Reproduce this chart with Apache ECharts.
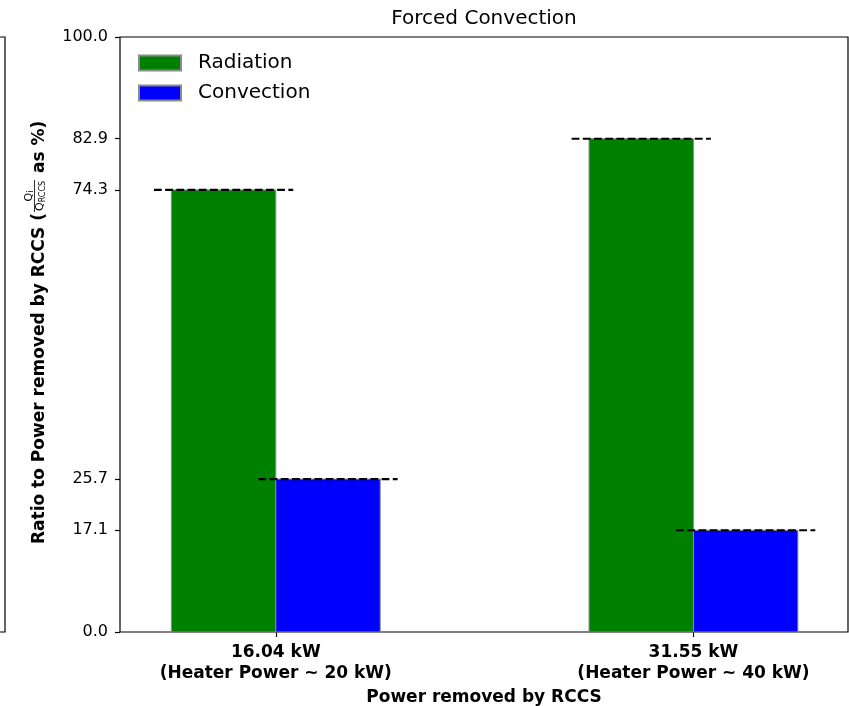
<!DOCTYPE html>
<html>
<head>
<meta charset="utf-8">
<script src="https://cdn.jsdelivr.net/npm/echarts@6/dist/echarts.min.js"></script>
<style>
  html, body { margin: 0; padding: 0; background: #fff; }
  #chart { width: 849px; height: 706px; }
</style>
</head>
<body>
<div id="chart"></div>
<script>
// data
const categories = ['16.04 kW\n(Heater Power ~ 20 kW)', '31.55 kW\n(Heater Power ~ 40 kW)'];
const radiation = [74.3, 82.9];
const convection = [25.7, 17.1];
const yTicks = [0, 17.1, 25.7, 74.3, 82.9, 100];

const FONT = 'DejaVu Sans';
const BAR_W = 0.25;
const DASH_HALF = 0.1667;

const chart = echarts.init(document.getElementById('chart'));

// bar + dashed level line, drawn through the axes
function barRenderer(offset) {
  return function (params, api) {
    const x = api.value(0) + offset;
    const v = api.value(1);
    const p0 = api.coord([x - BAR_W / 2, 0]);
    const p1 = api.coord([x + BAR_W / 2, v]);
    const l0 = api.coord([x - DASH_HALF, v]);
    const l1 = api.coord([x + DASH_HALF, v]);
    return {
      type: 'group',
      children: [
        {
          type: 'rect',
          shape: { x: p0[0], y: p1[1], width: p1[0] - p0[0], height: p0[1] - p1[1] },
          style: { fill: api.visual('color'), stroke: '#8a8a8a', lineWidth: 1 }
        },
        {
          type: 'line',
          z2: 10,
          shape: { x1: l0[0], y1: l0[1], x2: l1[0], y2: l1[1] },
          style: { stroke: '#000', lineWidth: 2.1, lineDash: [7.8, 3.4] }
        }
      ]
    };
  };
}

// y axis label with a small fraction, laid out by measured widths
const ctx = document.createElement('canvas').getContext('2d');
function textW(font, s) {
  ctx.font = font;
  return ctx.measureText(s).width;
}
const mainFont = 'bold 17px "' + FONT + '"';
const qFont = '11px "' + FONT + '"';
const subFont = '8px "' + FONT + '"';
const mainText = 'Ratio to Power removed by RCCS (';
const w1 = textW(mainFont, mainText);
const numW = textW(qFont, 'Q') + textW(subFont, 'i');
const denW = textW(qFont, 'Q') + textW(subFont, 'RCCS');
const fracW = denW + 2;
const fx = w1 + 1;

const yName = {
  type: 'group',
  x: 40,
  y: 544,
  rotation: Math.PI / 2,
  children: [
    { type: 'text', style: { text: mainText, x: 0, y: 0, font: mainFont, fill: '#000', textAlign: 'left', textVerticalAlign: 'middle' } },
    { type: 'text', style: { text: 'Q', x: fx + (fracW - numW) / 2, y: -11, font: qFont, fill: '#000', textAlign: 'left', textVerticalAlign: 'middle' } },
    { type: 'text', style: { text: 'i', x: fx + (fracW - numW) / 2 + textW(qFont, 'Q'), y: -9, font: subFont, fill: '#000', textAlign: 'left', textVerticalAlign: 'middle' } },
    { type: 'line', shape: { x1: fx, y1: -5.5, x2: fx + fracW, y2: -5.5 }, style: { stroke: '#000', lineWidth: 0.8 } },
    { type: 'text', style: { text: 'Q', x: fx + 1, y: 0.5, font: qFont, fill: '#000', textAlign: 'left', textVerticalAlign: 'middle' } },
    { type: 'text', style: { text: 'RCCS', x: fx + 1 + textW(qFont, 'Q'), y: 2.5, font: subFont, fill: '#000', textAlign: 'left', textVerticalAlign: 'middle' } },
    { type: 'text', style: { text: ' as %)', x: fx + fracW + 1, y: 0, font: mainFont, fill: '#000', textAlign: 'left', textVerticalAlign: 'middle' } }
  ]
};

const option = {
  backgroundColor: '#fff',
  animation: false,
  title: {
    text: 'Forced Convection',
    left: 484,
    textAlign: 'center',
    top: 9,
    padding: 0,
    textStyle: { fontFamily: FONT, fontSize: 20, fontWeight: 'normal', color: '#000' }
  },
  legend: {
    data: ['Radiation', 'Convection'],
    orient: 'vertical',
    left: 138,
    top: 53,
    padding: 0,
    icon: 'rect',
    itemWidth: 42,
    itemHeight: 15,
    itemGap: 10,
    textStyle: { fontFamily: FONT, fontSize: 20, color: '#000', padding: [0, 0, 0, 12] }
  },
  grid: [
    { left: 120, top: 37, width: 728, height: 595, outerBoundsMode: 'none', show: true, borderColor: '#000', borderWidth: 1.2 },
    // edge of the neighbouring subplot, cut off at the left
    { left: -100, top: 37, width: 105, height: 595, outerBoundsMode: 'none', show: true, borderColor: '#000', borderWidth: 1.2 }
  ],
  xAxis: {
    type: 'value',
    gridIndex: 0,
    min: -0.373,
    max: 1.37,
    axisLine: { show: false, onZero: false },
    splitLine: { show: false },
    axisTick: { show: true, length: 5, customValues: [0, 1], lineStyle: { color: '#000', width: 1.2 } },
    axisLabel: {
      customValues: [0, 1],
      formatter: v => categories[Math.round(v)],
      fontFamily: FONT,
      fontSize: 17,
      fontWeight: 'bold',
      lineHeight: 21,
      color: '#000',
      margin: 10
    },
    name: 'Power removed by RCCS',
    nameLocation: 'middle',
    nameGap: 55,
    nameTextStyle: { fontFamily: FONT, fontSize: 17, fontWeight: 'bold', color: '#000' }
  },
  yAxis: {
    type: 'value',
    gridIndex: 0,
    min: 0,
    max: 100,
    axisLine: { show: false, onZero: false },
    splitLine: { show: false },
    axisTick: { show: true, length: 5, customValues: yTicks, lineStyle: { color: '#000', width: 1.2 } },
    axisLabel: {
      customValues: yTicks,
      formatter: v => v.toFixed(1),
      fontFamily: FONT,
      fontSize: 16,
      color: '#000',
      margin: 12
    }
  },
  graphic: [yName],
  series: [
    {
      name: 'Radiation',
      type: 'custom',
      itemStyle: { color: '#008000', borderColor: '#8a8a8a', borderWidth: 1 },
      renderItem: barRenderer(-BAR_W / 2),
      data: radiation.map((v, i) => [i, v])
    },
    {
      name: 'Convection',
      type: 'custom',
      itemStyle: { color: '#0000ff', borderColor: '#8a8a8a', borderWidth: 1 },
      renderItem: barRenderer(BAR_W / 2),
      data: convection.map((v, i) => [i, v])
    }
  ]
};

chart.setOption(option);
</script>
</body>
</html>
